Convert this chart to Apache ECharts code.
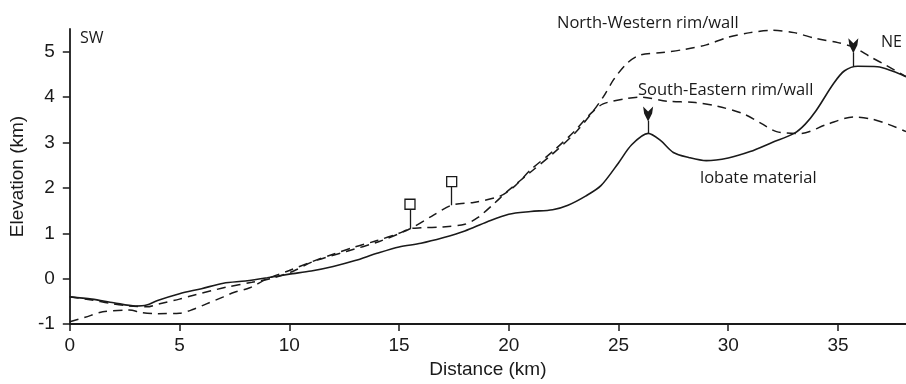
<!DOCTYPE html>
<html>
<head>
<meta charset="utf-8">
<script src="https://cdn.jsdelivr.net/npm/echarts@6/dist/echarts.min.js"></script>
<style>html,body{margin:0;padding:0;background:#fff}#c{width:906px;height:384px}</style>
</head>
<body>
<div id="c"></div>
<script>
// Distance (km), elevation (km) pairs
const lobateMaterial = [[0,-0.4],[1,-0.45],[2,-0.53],[3,-0.6],[3.5,-0.58],[4,-0.48],[5,-0.33],[6,-0.22],[7,-0.1],[8,-0.05],[9,0.02],[10,0.1],[11,0.17],[12,0.27],[13,0.4],[14,0.56],[15,0.7],[16,0.78],[17,0.9],[18,1.05],[19,1.25],[20,1.42],[21,1.48],[22,1.52],[22.7,1.62],[23.5,1.82],[24.2,2.05],[25,2.55],[25.6,2.95],[26.35,3.2],[26.9,3.05],[27.5,2.78],[28.2,2.67],[29,2.6],[30,2.66],[31,2.8],[32,3.0],[33,3.2],[33.5,3.4],[34,3.7],[34.8,4.3],[35.3,4.58],[35.9,4.68],[36.8,4.67],[37.5,4.57],[38.1,4.45]];
const northWesternRim = [[0,-0.95],[0.7,-0.85],[1.5,-0.73],[2.7,-0.69],[3.3,-0.75],[4,-0.77],[5,-0.76],[5.6,-0.68],[6.2,-0.56],[7,-0.4],[7.5,-0.3],[8.2,-0.2],[9,0],[10,0.18],[11,0.37],[12,0.54],[13,0.7],[14,0.84],[15,1.0],[15.5,1.1],[16,1.12],[17,1.14],[18,1.2],[18.6,1.35],[19.3,1.64],[20,1.95],[21,2.35],[22,2.75],[23,3.2],[23.7,3.6],[24.3,4.0],[24.8,4.4],[25.4,4.75],[26,4.93],[27,4.98],[28,5.05],[29,5.15],[30,5.32],[31,5.42],[32,5.47],[33,5.42],[34,5.29],[35,5.2],[35.7,5.1],[36.5,4.88],[37.2,4.7],[38.1,4.45]];
const southEasternRim = [[0,-0.4],[1,-0.47],[1.8,-0.54],[2.7,-0.6],[3.5,-0.62],[4.1,-0.55],[5,-0.45],[5.6,-0.37],[7.1,-0.19],[8.3,-0.08],[9.3,0.02],[10.2,0.17],[11.1,0.38],[12.6,0.6],[14.1,0.82],[15.5,1.1],[16.5,1.38],[17.4,1.62],[18.4,1.68],[19.6,1.82],[20.3,2.05],[21,2.4],[22,2.8],[23,3.25],[23.7,3.62],[24.3,3.85],[25.4,3.97],[26,4.0],[27.2,3.91],[28.5,3.88],[29.5,3.8],[30.7,3.63],[31.5,3.42],[32.2,3.24],[33.3,3.2],[34.5,3.4],[35.7,3.56],[36.5,3.52],[37.3,3.4],[38.1,3.24]];
// square markers: [x, line elevation, marker elevation]
const squareMarkers = [[15.5,1.1,1.64],[17.4,1.62,2.14]];
// arrow markers: [x, line elevation, marker elevation]
const arrowMarkers = [[26.35,3.2,3.63],[35.7,4.68,5.13]];
const xTicks = [0,5,10,15,20,25,30,35];
const yTicks = [-1,0,1,2,3,4,5];
const xRange = [0,38.1];
const yRange = [-1,5.5];

const ink = '#1a1a1a';
const tickFont = '"Liberation Sans", Arial, sans-serif';
const noteFont = '"Open Sans", sans-serif';

const chart = echarts.init(document.getElementById('c'), null, {renderer:'canvas'});

const stemSegs = squareMarkers.map(m => ({coords:[[m[0],m[1]],[m[0],m[2]-0.11]]}))
  .concat(arrowMarkers.map(m => ({coords:[[m[0],m[1]],[m[0],m[2]-0.15]]})));

chart.setOption({
  animation:false,
  backgroundColor:'#fff',
  grid:{left:69,right:0,top:29,bottom:54,containLabel:false},
  xAxis:{
    type:'value', min:xRange[0], max:xRange[1],
    name:'Distance (km)', nameLocation:'middle', nameGap:30,
    nameTextStyle:{color:ink,fontFamily:tickFont,fontSize:19},
    axisLine:{show:true,onZero:false,lineStyle:{color:ink,width:1.8}},
    axisTick:{show:true,inside:false,length:7,customValues:xTicks,lineStyle:{color:ink,width:1.5}},
    axisLabel:{show:true,margin:12,customValues:xTicks,color:ink,fontFamily:tickFont,fontSize:19},
    splitLine:{show:false}
  },
  yAxis:{
    type:'value', min:yRange[0], max:yRange[1],
    name:'Elevation (km)', nameLocation:'middle', nameGap:36,
    nameTextStyle:{color:ink,fontFamily:tickFont,fontSize:19},
    axisLine:{show:true,onZero:false,lineStyle:{color:ink,width:1.8}},
    axisTick:{show:true,inside:false,length:7,customValues:yTicks,lineStyle:{color:ink,width:1.5}},
    axisLabel:{show:true,margin:15,customValues:yTicks,color:ink,fontFamily:tickFont,fontSize:19},
    splitLine:{show:false}
  },
  series:[
    {type:'line',name:'North-Western rim/wall',data:northWesternRim,smooth:0.3,showSymbol:false,
     lineStyle:{color:ink,width:1.5,type:[9,6]}},
    {type:'line',name:'South-Eastern rim/wall',data:southEasternRim,smooth:0.3,showSymbol:false,
     lineStyle:{color:ink,width:1.5,type:[9,6]}},
    {type:'line',name:'lobate material',data:lobateMaterial,smooth:0.3,showSymbol:false,
     lineStyle:{color:ink,width:1.6}},
    {type:'lines',coordinateSystem:'cartesian2d',polyline:false,data:stemSegs,
     lineStyle:{color:ink,width:1.3,opacity:1},silent:true,z:3},
    {type:'scatter',data:squareMarkers.map(m=>[m[0],m[2]]),symbol:'rect',symbolSize:10,
     itemStyle:{color:'#fff',borderColor:ink,borderWidth:1.3,opacity:1},z:4},
    {type:'scatter',data:arrowMarkers.map(m=>[m[0],m[2]]),symbol:'path://M0,0 L5,5 L10,0 L9,7 L5,15 L1,7 Z',symbolSize:[10,15],symbolKeepAspect:false,
     itemStyle:{color:ink,opacity:1},z:4}
  ],
  graphic:[
    {type:'text',left:80,top:30,style:{text:'SW',fill:ink,font:'16px '+noteFont}},
    {type:'text',left:881,top:34,style:{text:'NE',fill:ink,font:'16px '+noteFont}},
    {type:'text',left:557,top:15,style:{text:'North-Western rim/wall',fill:ink,font:'16.5px '+noteFont}},
    {type:'text',left:638,top:82,style:{text:'South-Eastern rim/wall',fill:ink,font:'16.5px '+noteFont}},
    {type:'text',left:700,top:170,style:{text:'lobate material',fill:ink,font:'16.5px '+noteFont}}
  ]
});
</script>
</body>
</html>
